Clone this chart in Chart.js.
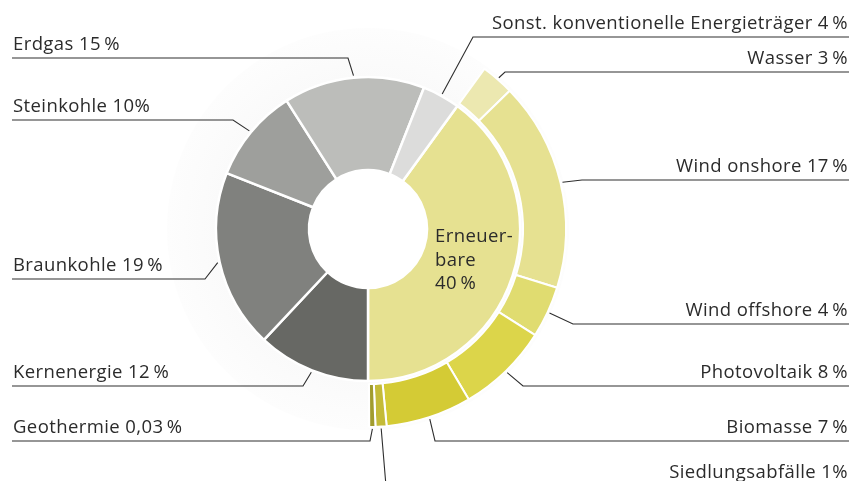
<!DOCTYPE html>
<html>
<head>
<meta charset="utf-8">
<script src="https://cdn.jsdelivr.net/npm/chart.js@4/dist/chart.umd.min.js"></script>
<style>
  html, body { margin: 0; padding: 0; background: #ffffff; }
  #wrap { width: 865px; height: 481px; position: relative; }
</style>
</head>
<body>
<div id="wrap"><canvas id="c" width="865" height="481"></canvas></div>
<script>
// ---- data ----
const innerCategories = ['Erneuerbare', 'Kernenergie', 'Braunkohle', 'Steinkohle', 'Erdgas', 'Sonst. konventionelle Energieträger'];
const innerValues = [40, 12, 19, 10, 15, 4];
const innerColors = ['#e6e191', '#676864', '#80817e', '#9e9f9c', '#bcbdba', '#dcdcdb'];
const innerLabelTexts = [null, 'Kernenergie 12\u2009%', 'Braunkohle 19\u2009%', 'Steinkohle 10%', 'Erdgas 15\u2009%', 'Sonst. konventionelle Energieträger 4\u2009%'];

const outerCategories = ['Wasser', 'Wind onshore', 'Wind offshore', 'Photovoltaik', 'Biomasse', 'Siedlungsabfälle', 'Geothermie', 'Rest'];
const outerValues = [2.7, 17.1, 4.2, 7.5, 7.0, 0.9, 0.5, 60.1];
const outerColors = ['#ece8b0', '#e6e191', '#e0dc70', '#dcd54a', '#d4cb35', '#c4bb38', '#a19c2e', 'rgba(0,0,0,0)'];
const outerLabelTexts = ['Wasser 3\u2009%', 'Wind onshore 17\u2009%', 'Wind offshore 4\u2009%', 'Photovoltaik 8\u2009%', 'Biomasse 7\u2009%', 'Siedlungsabfälle 1%', 'Geothermie 0,03\u2009%', null];

const centerLines = ['Erneuer-', 'bare', '40\u2009%'];

// ---- callout layout (annotation placement only) ----
const callouts = [
  { ds: 2, i: 4, side: 'left',  lineY: 58,  elbowX: 348 },
  { ds: 2, i: 3, side: 'left',  lineY: 120, elbowX: 233 },
  { ds: 2, i: 2, side: 'left',  lineY: 279, elbowX: 205 },
  { ds: 2, i: 1, side: 'left',  lineY: 386, elbowX: 303 },
  { ds: 0, i: 6, side: 'left',  lineY: 441, elbowX: 370 },
  { ds: 2, i: 5, side: 'right', lineY: 37,  elbowX: 473 },
  { ds: 0, i: 0, side: 'right', lineY: 72,  elbowX: 505 },
  { ds: 0, i: 1, side: 'right', lineY: 180, elbowX: 582 },
  { ds: 0, i: 2, side: 'right', lineY: 324, elbowX: 573 },
  { ds: 0, i: 3, side: 'right', lineY: 386, elbowX: 523 },
  { ds: 0, i: 4, side: 'right', lineY: 441, elbowX: 435 },
  { ds: 0, i: 5, side: 'right', lineY: 486, elbowX: 386 }
];

const FONT = '18.5px "Open Sans", "Noto Sans", sans-serif';
const TEXT_COLOR = '#2b2b2b';
const LINE_COLOR = '#2e2e2e';
const LEFT_X = 13, RIGHT_X = 848;

const bgPlugin = {
  id: 'bgCircle',
  beforeDatasetsDraw(chart) {
    const arc = chart.getDatasetMeta(0).data[0];
    if (!arc) return;
    const ctx = chart.ctx;
    const r = arc.outerRadius + 3;
    const g = ctx.createRadialGradient(arc.x, arc.y, 0, arc.x, arc.y, r);
    g.addColorStop(0, '#f9f9f9');
    g.addColorStop(0.75, '#fafafa');
    g.addColorStop(1, '#fdfdfd');
    ctx.save();
    ctx.beginPath();
    ctx.arc(arc.x, arc.y, r, 0, Math.PI * 2);
    ctx.fillStyle = g;
    ctx.fill();
    const inner = chart.getDatasetMeta(2).data[0];
    ctx.beginPath();
    ctx.arc(arc.x, arc.y, inner.innerRadius, 0, Math.PI * 2);
    ctx.fillStyle = '#ffffff';
    ctx.fill();
    ctx.restore();
  }
};

const labelPlugin = {
  id: 'callouts',
  afterDatasetsDraw(chart) {
    const ctx = chart.ctx;
    ctx.save();
    ctx.font = FONT;
    try { ctx.letterSpacing = '0.4px'; } catch (e) {}
    ctx.fillStyle = TEXT_COLOR;
    ctx.strokeStyle = LINE_COLOR;
    ctx.lineWidth = 1.1;
    ctx.textBaseline = 'alphabetic';
    callouts.forEach(c => {
      const el = chart.getDatasetMeta(c.ds).data[c.i];
      const mid = (el.startAngle + el.endAngle) / 2;
      const r = el.outerRadius + 2;
      const px = el.x + Math.cos(mid) * r;
      const py = el.y + Math.sin(mid) * r;
      const text = c.ds === 0 ? outerLabelTexts[c.i] : innerLabelTexts[c.i];
      ctx.beginPath();
      ctx.moveTo(px, py);
      ctx.lineTo(c.elbowX, c.lineY);
      if (c.side === 'left') {
        ctx.lineTo(LEFT_X - 1, c.lineY);
      } else {
        ctx.lineTo(RIGHT_X + 1, c.lineY);
      }
      ctx.stroke();
      ctx.textAlign = c.side === 'left' ? 'left' : 'right';
      ctx.fillText(text, c.side === 'left' ? LEFT_X : RIGHT_X, c.lineY - 8);
    });
    const ren = chart.getDatasetMeta(2).data[0];
    ctx.textAlign = 'left';
    centerLines.forEach((t, k) => {
      ctx.fillText(t, ren.x + 67, ren.y + 13 + k * 23.5);
    });
    ctx.restore();
  }
};

new Chart(document.getElementById('c'), {
  type: 'doughnut',
  data: {
    labels: outerCategories,
    datasets: [
      { label: 'Erneuerbare Energien', data: outerValues, backgroundColor: outerColors,
        borderColor: outerColors.map(c => c === 'rgba(0,0,0,0)' ? 'rgba(0,0,0,0)' : '#ffffff'),
        borderWidth: 2, weight: 43 },
      { label: 'spacer', data: [1], backgroundColor: 'rgba(0,0,0,0)', borderWidth: 0, weight: 3 },
      { label: 'Energieträger', data: innerValues, backgroundColor: innerColors,
        borderColor: '#ffffff', borderWidth: 2.5, weight: 93 }
    ]
  },
  options: {
    responsive: false,
    animation: false,
    events: [],
    rotation: 36,
    radius: 198,
    cutout: '29.8%',
    layout: { padding: { left: 0, right: 129, top: 0, bottom: 23 } },
    plugins: { legend: { display: false }, tooltip: { enabled: false } }
  },
  plugins: [bgPlugin, labelPlugin]
});
</script>
</body>
</html>
